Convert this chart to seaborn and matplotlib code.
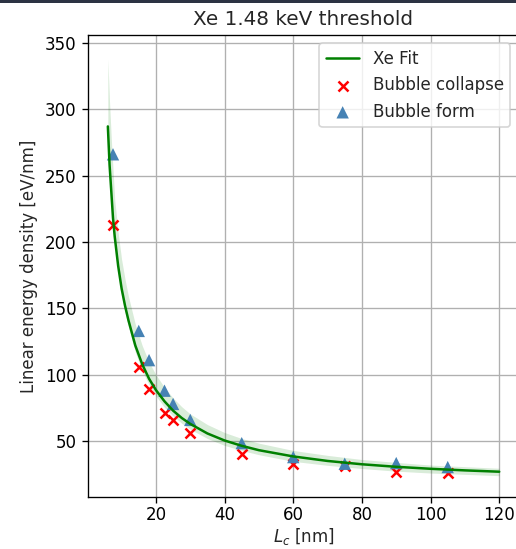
import matplotlib
matplotlib.use("Agg")
import matplotlib.pyplot as plt
from matplotlib.patches import Rectangle
import seaborn as sns
import pandas as pd

# Measured threshold points (L_c in nm, linear energy density in eV/nm)
collapse_lc = [7.5, 15, 18, 22.5, 25, 30, 45, 60, 75, 90, 105]
collapse_led = [213, 106, 89, 71, 66, 56, 40, 33, 31, 27, 26]

form_lc = [7.5, 15, 18, 22.5, 25, 30, 45, 60, 75, 90, 105]
form_led = [266, 133, 111, 88, 78, 66, 48.5, 38, 33, 33.5, 30.5]

# Fitted curve and its confidence band, sampled along L_c
fit_lc = [6, 6.5, 7, 7.5, 8, 9, 10, 11, 12, 14, 16, 18, 20, 22.5, 25, 27.5,
          30, 35, 40, 45, 50, 60, 70, 80, 90, 100, 110, 120]
fit_led = [287, 258, 238, 218, 204, 182, 165, 152, 141, 122, 108, 97, 88.5,
           80, 73, 67.5, 63, 55.8, 50.5, 46.5, 43.2, 38.5, 35.1, 32.6, 30.7,
           29.2, 28, 27]
band_upper = [338, 305, 278, 255, 232, 207, 187, 172, 159, 138, 122, 109.5,
              100, 90.5, 82.5, 76, 70.5, 62.5, 56.5, 52, 48.5, 43, 39.3, 36.2,
              34, 32, 30.8, 29.6]
band_lower = [280, 252, 232, 212, 199, 178, 160, 147, 136, 117, 103, 92.5, 84,
              75.5, 69, 63.5, 59, 52, 46.8, 43, 39.8, 34.8, 31.8, 29.4, 27.4,
              26, 25, 24]

fit_df = pd.DataFrame({"lc": fit_lc, "led": fit_led})
collapse_df = pd.DataFrame({"lc": collapse_lc, "led": collapse_led})
form_df = pd.DataFrame({"lc": form_lc, "led": form_led})

sns.set_style("ticks")
plt.rcParams["font.family"] = ["DejaVu Sans"]

DPI = 120
fig = plt.figure(figsize=(516 / DPI, 549 / DPI), dpi=DPI)
ax = fig.add_axes([0.1711, 0.0953, 0.8343, 0.8409])

ax.fill_between(fit_lc, band_lower, band_upper, color="green", alpha=0.15,
                linewidth=0)
sns.lineplot(data=fit_df, x="lc", y="led", ax=ax, color="green",
             linewidth=1.5, label="Xe Fit")
sns.scatterplot(data=collapse_df, x="lc", y="led", ax=ax, marker="x",
                color="red", s=36, linewidth=1.5, label="Bubble collapse")
sns.scatterplot(data=form_df, x="lc", y="led", ax=ax, marker="^",
                color="steelblue", s=55, edgecolor="none",
                label="Bubble form")

ax.set_xlim(0.3, 125.7)
ax.set_ylim(8.2, 355.8)
ax.set_xticks([20, 40, 60, 80, 100, 120])
ax.set_yticks([50, 100, 150, 200, 250, 300, 350])
ax.grid(True, color="#b0b0b0", linewidth=0.8)
ax.set_axisbelow(True)
for side in ax.spines.values():
    side.set_color("black")
    side.set_linewidth(0.8)
ax.tick_params(colors="black", labelsize=10, length=3.5, width=0.8)
ax.tick_params(axis="x", pad=2.0)

ax.set_title("Xe 1.48 keV threshold", fontsize=12)
ax.set_xlabel("$L_c$ [nm]", fontsize=10, labelpad=1.5)
ax.set_ylabel("Linear energy density [eV/nm]", fontsize=10)
ax.legend(loc="upper right", fontsize=10, frameon=True)

# thin dark band along the top edge
fig.add_artist(Rectangle((0, 1 - 2.5 / 549), 1, 2.5 / 549,
                         transform=fig.transFigure, color="#2c3343",
                         linewidth=0))

fig.savefig("out.png", dpi=DPI)
